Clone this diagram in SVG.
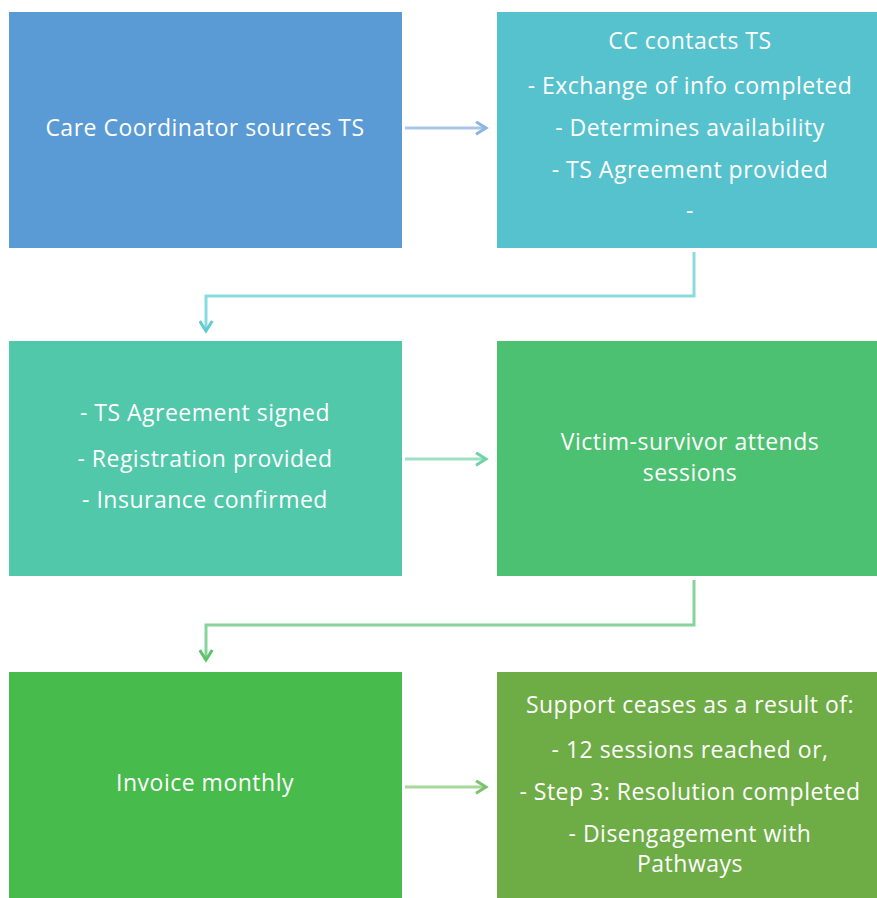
<svg xmlns="http://www.w3.org/2000/svg" width="877" height="898" viewBox="0 0 877 898">
<style>
.t{font-family:"Open Sans","Liberation Sans",sans-serif;font-size:23px;font-weight:500;letter-spacing:0.5px;fill:#fff;text-anchor:middle}
.ar{fill:none;stroke-width:3;stroke-linejoin:miter}
</style>
<defs>
<marker id="mb" viewBox="0 0 12 12" refX="10" refY="6" markerWidth="5" markerHeight="5" orient="auto" markerUnits="strokeWidth"><path d="M2,1 L10,6 L2,11" fill="none" stroke="#8DB4E2" stroke-width="2.4"/></marker>
<marker id="mt" viewBox="0 0 12 12" refX="10" refY="6" markerWidth="5" markerHeight="5" orient="auto" markerUnits="strokeWidth"><path d="M2,1 L10,6 L2,11" fill="none" stroke="#5FCBD3" stroke-width="2.4"/></marker>
<marker id="mg" viewBox="0 0 12 12" refX="10" refY="6" markerWidth="5" markerHeight="5" orient="auto" markerUnits="strokeWidth"><path d="M2,1 L10,6 L2,11" fill="none" stroke="#6DD3A8" stroke-width="2.4"/></marker>
<marker id="mg2" viewBox="0 0 12 12" refX="10" refY="6" markerWidth="5" markerHeight="5" orient="auto" markerUnits="strokeWidth"><path d="M2,1 L10,6 L2,11" fill="none" stroke="#5CC368" stroke-width="2.4"/></marker>
<marker id="mg3" viewBox="0 0 12 12" refX="10" refY="6" markerWidth="5" markerHeight="5" orient="auto" markerUnits="strokeWidth"><path d="M2,1 L10,6 L2,11" fill="none" stroke="#7CC26E" stroke-width="2.4"/></marker>
</defs>
<g id="connectors">
<path class="ar" d="M405,128 H486" stroke="#A9C6EA" marker-end="url(#mb)"/>
<path class="ar" d="M694,252 V296 H206 V331" stroke="#8ADBDF" marker-end="url(#mt)"/>
<path class="ar" d="M405,459 H486" stroke="#9FE0C4" marker-end="url(#mg)"/>
<path class="ar" d="M694,580 V625 H206 V660" stroke="#86D49A" marker-end="url(#mg2)"/>
<path class="ar" d="M405,787 H486" stroke="#A8D79C" marker-end="url(#mg3)"/>
</g>
<g id="n1"><rect x="9" y="12" width="393" height="236" fill="#5B9BD5"/>
<text class="t" x="205" y="136">Care Coordinator sources TS</text></g>
<g id="n2"><rect x="497" y="12" width="380" height="236" fill="#56C2CE"/>
<text class="t" x="690" y="49">CC contacts TS</text>
<text class="t" x="690" y="94">- Exchange of info completed</text>
<text class="t" x="690" y="136">- Determines availability</text>
<text class="t" x="690" y="178">- TS Agreement provided</text>
<text class="t" x="690" y="219">-</text></g>
<g id="n3"><rect x="9" y="341" width="393" height="235" fill="#50C8A9"/>
<text class="t" x="205" y="421">- TS Agreement signed</text>
<text class="t" x="205" y="467">- Registration provided</text>
<text class="t" x="205" y="508">- Insurance confirmed</text></g>
<g id="n4"><rect x="497" y="341" width="380" height="235" fill="#4CC171"/>
<text class="t" x="690" y="450">Victim-survivor attends</text>
<text class="t" x="690" y="481">sessions</text></g>
<g id="n5"><rect x="9" y="672" width="393" height="226" fill="#47BB4B"/>
<text class="t" x="205" y="791">Invoice monthly</text></g>
<g id="n6"><rect x="497" y="672" width="380" height="226" fill="#6EAC46"/>
<text class="t" x="690" y="713">Support ceases as a result of:</text>
<text class="t" x="690" y="758">- 12 sessions reached or,</text>
<text class="t" x="690" y="800">- Step 3: Resolution completed</text>
<text class="t" x="690" y="842">- Disengagement with</text>
<text class="t" x="690" y="872">Pathways</text></g>
</svg>
